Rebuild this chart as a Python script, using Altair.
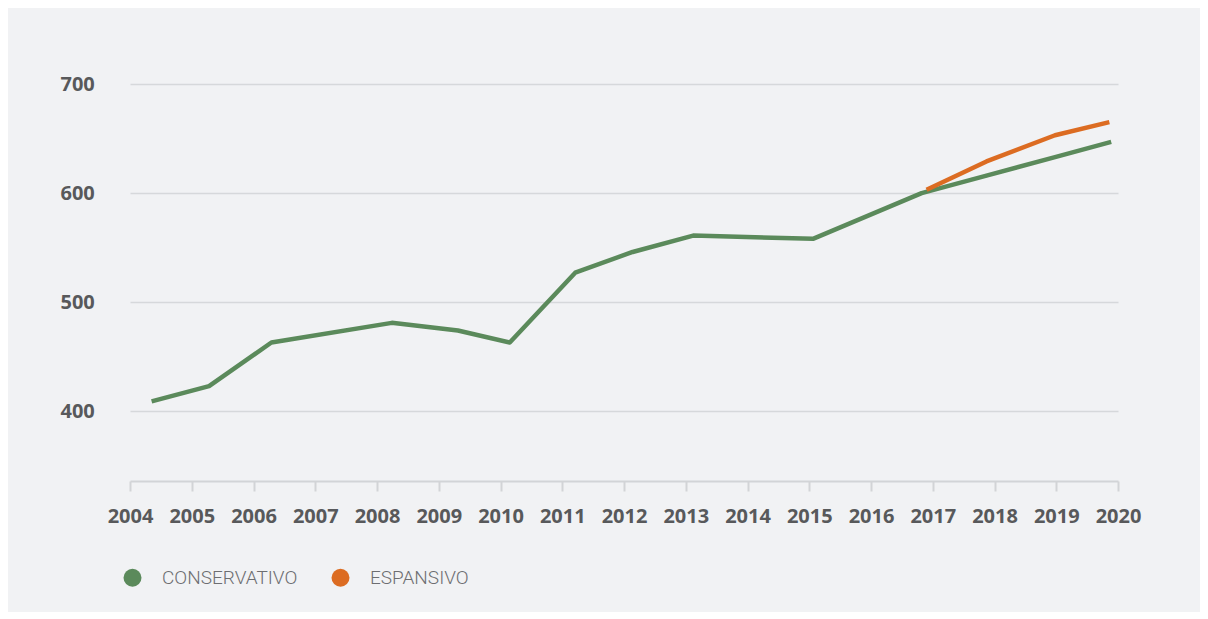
import altair as alt
import pandas as pd

# --- data ---
cons_x = [2004.35, 2005.28, 2006.29, 2008.24, 2009.31, 2010.15, 2011.21, 2012.14,
          2013.12, 2015.06, 2016.82, 2017.87, 2018.98, 2019.89]
cons_y = [409, 423, 463, 481, 474, 463, 527, 546, 561, 558, 600, 616, 633, 647]
esp_x = [2016.9, 2017.87, 2018.98, 2019.86]
esp_y = [603, 629, 653, 665]
series = ["CONSERVATIVO", "ESPANSIVO"]
colors = ["#5b8a5b", "#dc6c22"]
x_ticks = list(range(2004, 2021))
y_ticks = [400, 500, 600, 700]

rows = []
for x, y in zip(cons_x, cons_y):
    rows.append({"anno": x, "valore": y, "scenario": series[0]})
for x, y in zip(esp_x, esp_y):
    rows.append({"anno": x, "valore": y, "scenario": series[1]})
df = pd.DataFrame(rows)

label_font = "Open Sans"
label_color = "#58595b"
grid_color = "#d6d8db"

x_enc = alt.X("anno:Q", scale=alt.Scale(domain=[2004, 2020], nice=False, zero=False),
              axis=alt.Axis(values=x_ticks, format="d", title=None, grid=False,
                            domainColor="#d2d4d7", domainWidth=2, tickColor="#d2d4d7",
                            tickWidth=2, tickSize=10, labelPadding=15,
                            labelFont=label_font, labelFontSize=20, labelFontWeight="bold",
                            labelColor=label_color, labelFlush=False))
y_enc = alt.Y("valore:Q", scale=alt.Scale(domain=[336, 700], nice=False, zero=False),
              axis=alt.Axis(values=y_ticks, title=None, domain=False, ticks=False, tickSize=0,
                            grid=True, gridColor=grid_color, gridWidth=1.3,
                            labelAlign="left", labelPadding=70, labelBaseline="middle",
                            labelFont=label_font, labelFontSize=20, labelFontWeight="bold",
                            labelColor=label_color))

legend = alt.Legend(title=None, orient="none", legendX=-7, legendY=484,
                    direction="horizontal",
                    symbolType="circle", symbolSize=324, symbolStrokeWidth=0,
                    symbolOpacity=1, labelOffset=20, columnPadding=33,
                    labelFont="Roboto", labelFontWeight=300,
                    labelFontSize=19, labelColor="#6d6e71")

points = alt.Chart(df).mark_circle(opacity=0).encode(
    x=x_enc, y=y_enc,
    color=alt.Color("scenario:N", scale=alt.Scale(domain=series, range=colors), legend=legend),
)

lines = alt.Chart(df).mark_line(strokeWidth=4.5, strokeJoin="round").encode(
    x=x_enc, y=y_enc,
    color=alt.Color("scenario:N", scale=alt.Scale(domain=series, range=colors), legend=legend),
    detail="scenario:N",
)

chart = alt.layer(points, lines).properties(
    width=988, height=397,
    background="#f1f2f4",
    padding={"left": 122, "top": 76, "right": 82, "bottom": 131},
    autosize=alt.AutoSizeParams(type="none"),
).configure_view(stroke=None)

chart.save("out.html", embed_options={"renderer": "svg", "actions": False})
